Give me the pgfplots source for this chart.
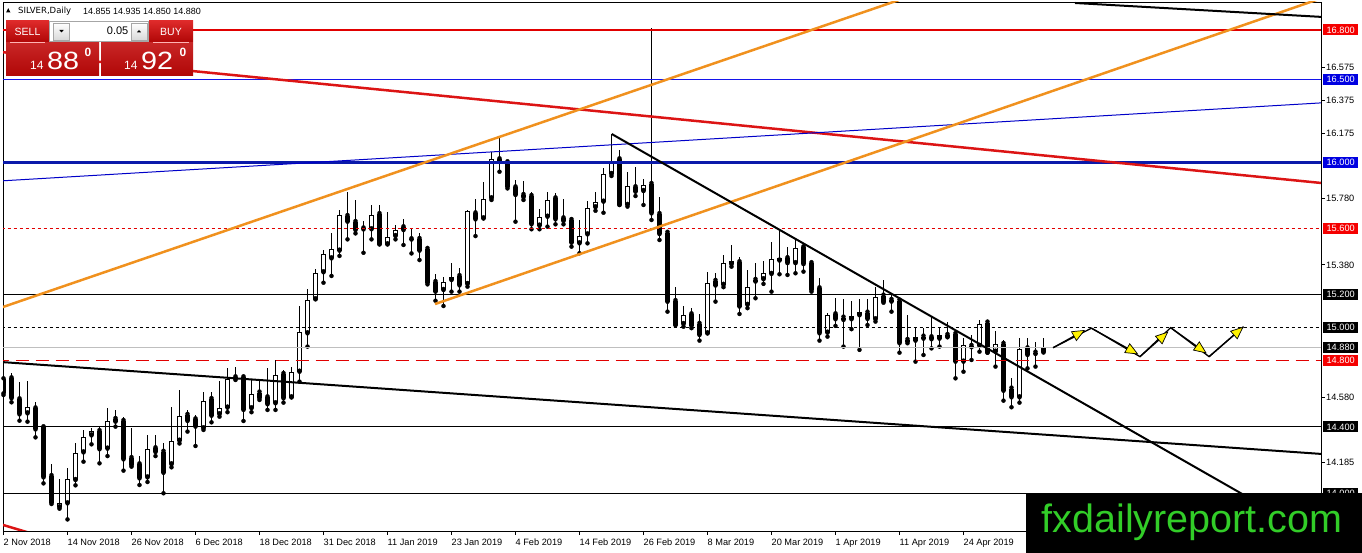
\documentclass[border=0pt]{standalone}
\usepackage{fontspec}
\setmainfont{Liberation Sans}
\newfontfamily\dejavu{DejaVu Sans}
\usepackage{pgfplots}
\pgfplotsset{compat=1.18}
\usepackage{pgfplotstable}
\usetikzlibrary{arrows.meta}

\definecolor{mtred}{RGB}{225,0,0}
\definecolor{boxred}{RGB}{245,0,0}
\definecolor{boxblue}{RGB}{0,0,225}
\definecolor{lineblue}{RGB}{0,0,200}
\definecolor{levelblue}{RGB}{20,20,235}
\definecolor{thickblue}{RGB}{10,25,170}
\definecolor{trendred}{RGB}{220,20,20}
\definecolor{mtorange}{RGB}{240,145,30}
\definecolor{btntop}{RGB}{222,42,42}
\definecolor{btnbot}{RGB}{176,6,6}
\definecolor{logogreen}{RGB}{50,205,40}

\pgfplotstableread{
i o h l c
0 14.688 14.724 14.593 14.603
1 14.694 14.724 14.549 14.573
2 14.567 14.674 14.438 14.476
3 14.482 14.678 14.432 14.518
4 14.512 14.553 14.337 14.385
5 14.398 14.402 14.059 14.095
6 14.103 14.176 13.934 13.942
7 13.914 14.083 13.906 13.938
8 13.938 14.150 13.841 14.083
9 14.079 14.305 14.047 14.240
10 14.246 14.381 14.190 14.337
11 14.349 14.391 14.295 14.375
12 14.375 14.406 14.180 14.265
13 14.269 14.512 14.224 14.438
14 14.448 14.502 14.402 14.432
15 14.436 14.462 14.136 14.204
16 14.212 14.396 14.160 14.168
17 14.174 14.224 14.049 14.089
18 14.095 14.351 14.067 14.265
19 14.271 14.351 14.224 14.248
20 14.250 14.301 13.999 14.123
21 14.174 14.522 14.156 14.315
22 14.317 14.624 14.300 14.466
23 14.473 14.503 14.372 14.436
24 14.446 14.473 14.285 14.402
25 14.392 14.610 14.382 14.557
26 14.569 14.610 14.428 14.468
27 14.477 14.680 14.462 14.513
28 14.517 14.755 14.489 14.690
29 14.700 14.765 14.684 14.690
30 14.700 14.714 14.436 14.503
31 14.513 14.684 14.489 14.600
32 14.608 14.684 14.563 14.573
33 14.579 14.755 14.503 14.537
34 14.543 14.805 14.503 14.714
35 14.720 14.745 14.547 14.573
36 14.579 14.765 14.579 14.730
37 14.734 15.133 14.674 14.972
38 14.966 15.234 14.886 15.168
39 15.172 15.353 15.172 15.329
40 15.335 15.470 15.272 15.446
41 15.419 15.575 15.313 15.474
42 15.466 15.712 15.434 15.681
43 15.675 15.822 15.534 15.641
44 15.639 15.772 15.570 15.590
45 15.600 15.647 15.453 15.594
46 15.595 15.742 15.534 15.681
47 15.687 15.742 15.504 15.504
48 15.504 15.701 15.504 15.546
49 15.554 15.621 15.534 15.590
50 15.607 15.655 15.500 15.590
51 15.535 15.595 15.449 15.533
52 15.536 15.570 15.409 15.466
53 15.476 15.480 15.262 15.272
54 15.276 15.325 15.163 15.218
55 15.228 15.308 15.131 15.278
56 15.288 15.393 15.218 15.304
57 15.312 15.359 15.218 15.256
58 15.264 15.711 15.248 15.705
59 15.691 15.776 15.554 15.655
60 15.661 15.883 15.661 15.776
61 15.782 16.064 15.772 16.022
62 16.018 16.151 15.943 16.004
63 16.000 16.004 15.842 15.852
64 15.848 15.893 15.641 15.802
65 15.802 15.887 15.772 15.788
66 15.796 15.822 15.595 15.625
67 15.617 15.716 15.595 15.667
68 15.671 15.822 15.611 15.772
69 15.782 15.812 15.625 15.655
70 15.661 15.778 15.625 15.645
71 15.651 15.655 15.490 15.514
72 15.510 15.651 15.450 15.556
73 15.564 15.768 15.510 15.722
74 15.728 15.818 15.707 15.758
75 15.762 15.963 15.695 15.927
76 15.929 16.171 15.917 16.010
77 16.018 16.074 15.742 15.742
78 15.742 15.939 15.732 15.857
79 15.849 15.973 15.796 15.822
80 15.826 15.899 15.742 15.863
81 15.869 16.810 15.651 15.691
82 15.687 15.788 15.530 15.566
83 15.574 15.574 15.097 15.157
84 15.161 15.248 15.016 15.016
85 15.022 15.131 15.006 15.077
86 15.081 15.118 14.997 15.011
87 15.023 15.083 14.922 14.956
88 14.966 15.339 14.966 15.269
89 15.283 15.329 15.158 15.255
90 15.259 15.440 15.245 15.390
91 15.384 15.500 15.369 15.402
92 15.396 15.430 15.083 15.128
93 15.138 15.349 15.118 15.245
94 15.289 15.390 15.178 15.279
95 15.293 15.404 15.265 15.329
96 15.325 15.517 15.218 15.414
97 15.406 15.591 15.323 15.420
98 15.420 15.490 15.319 15.390
99 15.390 15.541 15.329 15.480
100 15.486 15.511 15.339 15.384
101 15.390 15.406 15.218 15.228
102 15.238 15.299 14.922 14.966
103 14.970 15.087 14.946 15.075
104 15.081 15.178 15.011 15.051
105 15.061 15.172 14.886 15.047
106 15.051 15.164 14.991 15.071
107 15.075 15.172 14.866 15.093
108 15.091 15.174 15.016 15.053
109 15.051 15.248 15.037 15.188
110 15.194 15.290 15.151 15.158
111 15.168 15.208 15.097 15.158
112 15.164 15.188 14.849 14.906
113 14.926 15.077 14.906 14.916
114 14.922 14.996 14.795 14.942
115 14.946 14.996 14.835 14.934
116 14.942 15.063 14.875 14.930
117 14.934 14.996 14.886 14.956
118 14.956 15.037 14.942 14.946
119 14.962 14.986 14.694 14.795
120 14.795 14.936 14.734 14.896
121 14.890 14.956 14.805 14.882
122 14.890 15.047 14.855 15.023
123 15.031 15.037 14.849 14.849
124 14.855 14.982 14.765 14.902
125 14.902 14.926 14.559 14.619
126 14.632 14.694 14.519 14.579
127 14.579 14.936 14.547 14.869
128 14.875 14.936 14.754 14.835
129 14.849 14.916 14.765 14.841
130 14.855 14.935 14.850 14.880
}\candles

\begin{document}
\begin{tikzpicture}
\begin{axis}[
  at={(3pt,22pt)}, anchor=south west,
  width=1318pt, height=529pt, scale only axis,
  xmin=-0.0625, xmax=164.6875, ymin=13.771, ymax=16.969,
  enlargelimits=false,
  clip mode=individual,
  axis line style={black, line width=0.8pt},
  xtick={0,8,...,120},
  xticklabels={2 Nov 2018,14 Nov 2018,26 Nov 2018,6 Dec 2018,18 Dec 2018,31 Dec 2018,11 Jan 2019,23 Jan 2019,4 Feb 2019,14 Feb 2019,26 Feb 2019,8 Mar 2019,20 Mar 2019,1 Apr 2019,11 Apr 2019,24 Apr 2019},
  ytick={14.185,14.580,15.380,15.780,16.175,16.375,16.575},
  xtick pos=bottom, ytick pos=right, yticklabel pos=right,
  tick align=outside, major tick length=4pt,
  tick style={black, line width=0.8pt},
  /pgf/number format/assume math mode=true,
  every tick label/.append style={font=\fontsize{9.2}{10}\selectfont, text=black},
  xticklabel style={anchor=north west, inner sep=0pt, xshift=0pt, yshift=-4pt},
  yticklabel style={anchor=west, inner sep=0pt, xshift=1pt, /pgf/number format/.cd, fixed, fixed zerofill, precision=3},
]
% candles: wicks
\addplot[only marks, mark=none, forget plot,
  error bars/.cd, y dir=plus, y explicit, error mark=none,
  error bar style={draw=black, line width=1pt}]
  table[x=i, y=l, y error expr=\thisrow{h}-\thisrow{l}] {\candles};
% candles: body outline / black bodies
\addplot[only marks, mark=none, forget plot,
  error bars/.cd, y dir=plus, y explicit, error mark=none,
  error bar style={draw=black, line width=5pt}]
  table[x=i, y expr={min(\thisrow{o},\thisrow{c})}, y error expr={max(abs(\thisrow{c}-\thisrow{o}),0.006)}] {\candles};
% candles: white bodies
\addplot[only marks, mark=none, forget plot,
  error bars/.cd, y dir=plus, y explicit, error mark=none,
  error bar style={draw=white, line width=3pt}]
  table[x=i, y expr={\thisrow{o}+0.006}, y error expr={max(\thisrow{c}-\thisrow{o}-0.0121,0)}] {\candles};

% horizontal levels
\addplot[mtred, line width=1.2pt] coordinates {(-1,16.8) (166,16.8)};
\addplot[levelblue, line width=1.2pt] coordinates {(-1,16.5) (166,16.5)};
\addplot[thickblue, line width=3pt] coordinates {(-1,16.0) (166,16.0)};
\addplot[mtred, line width=1pt, dash pattern=on 3pt off 3pt] coordinates {(-1,15.6) (166,15.6)};
\addplot[black, line width=1pt] coordinates {(-1,15.2) (166,15.2)};
\addplot[black, line width=1pt, dash pattern=on 3pt off 3pt] coordinates {(-1,15.0) (166,15.0)};
\addplot[black!25, line width=1pt] coordinates {(-1,14.88) (166,14.88)};
\addplot[mtred, line width=1.4pt, dash pattern=on 13pt off 7pt] coordinates {(-1,14.8) (166,14.8)};
\addplot[black, line width=1pt] coordinates {(-1,14.4) (166,14.4)};
\addplot[black, line width=1pt] coordinates {(-1,14.0) (166,14.0)};

% trend lines
\addplot[trendred, line width=2.5pt] coordinates {(-0.4375,16.667) (164.69,15.875)};
\addplot[trendred, line width=2.5pt] coordinates {(-0.4375,13.813) (6,13.72)};
\addplot[lineblue, line width=1pt] coordinates {(-0.4375,15.887) (164.69,16.359)};
\addplot[mtorange, line width=2.5pt] coordinates {(-0.4375,15.119) (111.94,16.981)};
\addplot[mtorange, line width=2.5pt] coordinates {(53.94,15.143) (164.69,16.991)};
\addplot[black, line width=2pt] coordinates {(133.94,16.963) (164.69,16.879)};
\addplot[black, line width=2pt] coordinates {(-0.4375,14.793) (164.69,14.237)};
\addplot[black, line width=2pt] coordinates {(76.03,16.171) (162.94,13.771)};

% projected path with arrows
\addplot[black, line width=1.3pt] coordinates {(131.2,14.879) (136.0,14.997) (142.06,14.825) (145.9,15.0) (150.7,14.825) (155.0,15.006)};
\addplot[black, line width=1.3pt, -{Triangle[length=13pt, width=11pt, fill=yellow, line width=0.7pt]}] coordinates {(131.2,14.879) (135.19,14.986)};
\addplot[black, line width=1.3pt, -{Triangle[length=13pt, width=11pt, fill=yellow, line width=0.7pt]}] coordinates {(136.0,14.997) (141.85,14.839)};
\addplot[black, line width=1.3pt, -{Triangle[length=13pt, width=11pt, fill=yellow, line width=0.7pt]}] coordinates {(142.06,14.825) (145.6,14.976)};
\addplot[black, line width=1.3pt, -{Triangle[length=13pt, width=11pt, fill=yellow, line width=0.7pt]}] coordinates {(145.9,15.0) (150.4,14.845)};
\addplot[black, line width=1.3pt, -{Triangle[length=13pt, width=11pt, fill=yellow, line width=0.7pt]}] coordinates {(150.7,14.825) (155.0,15.006)};

% price boxes on the right scale
\tikzset{pbox/.style={anchor=west, xshift=2pt, inner sep=0pt, minimum width=35pt, minimum height=11pt, text=white, font=\fontsize{9.2}{10}\selectfont}}
\node[pbox, fill=boxred] at (axis cs:164.6875,16.8) {16.800};
\node[pbox, fill=boxblue] at (axis cs:164.6875,16.5) {16.500};
\node[pbox, fill=boxblue] at (axis cs:164.6875,16.0) {16.000};
\node[pbox, fill=boxred] at (axis cs:164.6875,15.6) {15.600};
\node[pbox, fill=black] at (axis cs:164.6875,15.2) {15.200};
\node[pbox, fill=black] at (axis cs:164.6875,15.0) {15.000};
\node[pbox, fill=black] at (axis cs:164.6875,14.88) {14.880};
\node[pbox, fill=boxred] at (axis cs:164.6875,14.8) {14.800};
\node[pbox, fill=black] at (axis cs:164.6875,14.4) {14.400};
\node[pbox, fill=black] at (axis cs:164.6875,14.0) {14.000};
\end{axis}

% overlays in pixel coordinates (origin top left)
\begin{scope}[shift={(0pt,553pt)}, x=1pt, y=-1pt]
  % header
  \fill[black] (6,12.5) -- (10.5,12.5) -- (8.25,8.2) -- cycle;
  \node[anchor=west, inner sep=0pt, font=\dejavu\fontsize{8.5}{10}\selectfont] at (18,11) {SILVER,Daily};
  \node[anchor=west, inner sep=0pt, font=\fontsize{9}{10}\selectfont] at (83,11) {14.855 14.935 14.850 14.880};
  % sell / buy buttons
  \shade[top color=btntop, bottom color=btnbot] (6,21) rectangle (49,42);
  \shade[top color=btntop, bottom color=btnbot] (149,21) rectangle (193,42);
  \node[text=white, font=\fontsize{10.5}{12}\selectfont] at (27.5,31.5) {SELL};
  \node[text=white, font=\fontsize{10.5}{12}\selectfont] at (171,31.5) {BUY};
  % lot field
  \draw[black!35, fill=white] (49.5,21.5) rectangle (148.5,41.5);
  \shade[top color=white, bottom color=black!15, draw=black!35] (53,23) rectangle (69,40);
  \shade[top color=white, bottom color=black!15, draw=black!35] (131,23) rectangle (147,40);
  \fill[black] (59.3,30) -- (63.7,30) -- (61.5,32.5) -- cycle;
  \fill[black] (136.8,32.5) -- (141.2,32.5) -- (139,30) -- cycle;
  \node[anchor=east, inner sep=0pt, font=\fontsize{11}{12}\selectfont] at (128.5,31) {0.05};
  % price boxes
  \shade[top color=btntop!90!black, bottom color=btnbot] (6,43) rectangle (99,76);
  \shade[top color=btntop!90!black, bottom color=btnbot] (101,43) rectangle (193,76);
  \draw[white!70!red, line width=0.6pt] (10,42.5) -- (45,42.5);
  \draw[white!70!red, line width=0.6pt] (153,42.5) -- (189,42.5);
  \node[anchor=base west, inner sep=0pt, text=white, font=\fontsize{12}{13}\selectfont] at (30,70) {14};
  \node[anchor=base west, inner sep=0pt, text=white, xscale=1.15, font=\fontsize{25}{26}\selectfont] at (47,70) {88};
  \node[anchor=north west, inner sep=0pt, text=white, font=\bfseries\fontsize{12}{13}\selectfont] at (84.5,47.5) {0};
  \node[anchor=base west, inner sep=0pt, text=white, font=\fontsize{12}{13}\selectfont] at (124,70) {14};
  \node[anchor=base west, inner sep=0pt, text=white, xscale=1.15, font=\fontsize{25}{26}\selectfont] at (141,70) {92};
  \node[anchor=north west, inner sep=0pt, text=white, font=\bfseries\fontsize{12}{13}\selectfont] at (179.5,47.5) {0};
  % logo
  \fill[black] (1026,493) rectangle (1362,553);
  \node[anchor=base west, inner sep=0pt, text=logogreen, font=\fontsize{39.5}{40}\selectfont] at (1041.5,533) {fxdailyreport.com};
\end{scope}
\pgfresetboundingbox
\useasboundingbox (0,0) rectangle (1362pt,553pt);
\end{tikzpicture}
\end{document}
